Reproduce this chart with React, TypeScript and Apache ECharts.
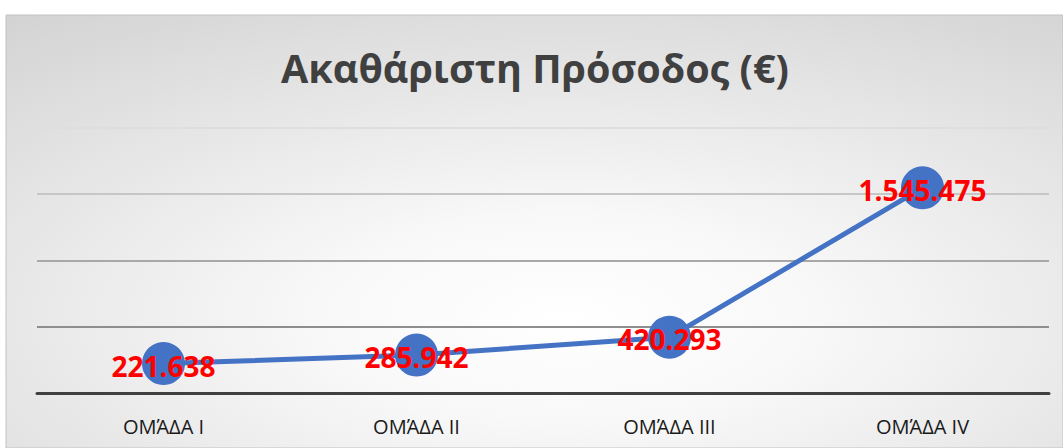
import React, { useEffect, useRef } from "react";
import * as echarts from "echarts";

const categories = ["ΟΜΆΔΑ I", "ΟΜΆΔΑ II", "ΟΜΆΔΑ III", "ΟΜΆΔΑ IV"];
const revenue = [221638, 285942, 420293, 1545475];
const titleText = "Ακαθάριστη Πρόσοδος (€)";

function formatGreek(v: number): string {
  return String(Math.round(v)).replace(/\B(?=(\d{3})+(?!\d))/g, ".");
}

export default function App() {
  const ref = useRef<HTMLDivElement>(null);
  useEffect(() => {
    if (!ref.current) return;
    const chart = echarts.init(ref.current, undefined, { renderer: "svg" });
    chart.setOption({
      animation: false,
      backgroundColor: "#ffffff",
      graphic: [
        {
          type: "rect",
          z: -10,
          silent: true,
          shape: { x: 6, y: 15, width: 1057, height: 433 },
          style: {
            fill: new echarts.graphic.RadialGradient(0.53, 0.7, 1.2, [
              { offset: 0, color: "#ffffff" },
              { offset: 0.2, color: "#f8f8f8" },
              { offset: 1, color: "#c0c0c0" },
            ]),
            stroke: "#c2c2c2",
            lineWidth: 1,
          },
        },
      ],
      title: {
        text: titleText,
        left: 530,
        top: 43,
        textAlign: "center",
        textStyle: {
          fontFamily: "Open Sans",
          fontWeight: "bold",
          fontSize: 39.5,
          color: "#404040",
        },
      },
      grid: { left: 37, right: 14, top: 127.5, bottom: 55, containLabel: false },
      xAxis: {
        type: "category",
        data: categories,
        boundaryGap: true,
        axisLine: { show: true, lineStyle: { color: "#404040", width: 3 } },
        axisTick: { show: false },
        axisLabel: {
          margin: 23,
          fontFamily: "Open Sans",
          fontSize: 20,
          color: "#1a1a1a",
        },
      },
      yAxis: {
        type: "value",
        min: 0,
        max: 2000000,
        interval: 500000,
        axisLine: { show: false },
        axisTick: { show: false },
        axisLabel: { show: false },
        splitLine: {
          show: true,
          lineStyle: {
            color: ["#404040", "#8e8e8e", "#a8a8a8", "#c6c6c6", "#dedede"],
            width: 2,
          },
        },
      },
      series: [
        {
          type: "line",
          data: revenue,
          symbol: "circle",
          symbolSize: 43,
          lineStyle: { color: "#4472C4", width: 5 },
          itemStyle: { color: "#4472C4" },
          label: {
            show: true,
            position: "inside",
            offset: [0, 2],
            formatter: (p: any) => formatGreek(p.value),
            fontFamily: "Open Sans",
            fontWeight: "bold",
            fontSize: 28,
            color: "#ff0000",
          },
        },
      ],
    });
    return () => chart.dispose();
  }, []);
  return (
    <div
      ref={ref}
      style={{ position: "fixed", left: 0, top: 0, width: 1063, height: 448 }}
    />
  );
}
